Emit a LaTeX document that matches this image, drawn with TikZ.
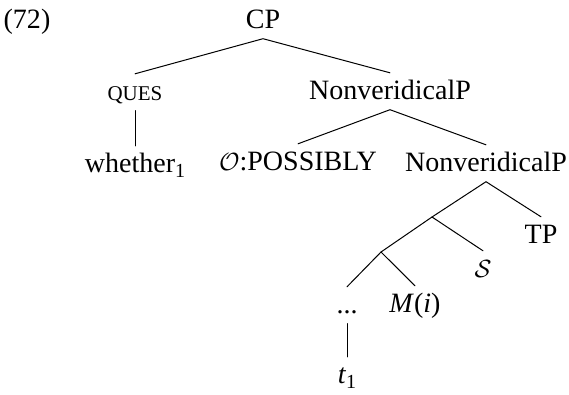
\documentclass[tikz,border=0pt]{standalone}
\usepackage{fontspec}
\setmainfont{Liberation Serif}
\newcommand{\lowsub}[1]{\raisebox{-5pt}{\fontsize{20}{24}\selectfont #1}}
\begin{document}
\begin{tikzpicture}[x=1pt,y=-1pt,
  tn/.style={anchor=base, inner sep=0pt, text height=26pt, text depth=10.5pt,
             font=\fontsize{28}{33}\selectfont},
  br/.style={line width=1pt, line cap=round}]
\useasboundingbox (0,0) rectangle (569,394);
\node[tn] (ex) at (27,28) {(72)};
\node[tn] (cp) at (263,28) {CP};
\node[tn] (ques) at (135,100) {{\fontsize{21}{24}\selectfont QUES}};
\node[tn] (nv1) at (390,99) {NonveridicalP};
\node[tn] (wh) at (135,172) {whether\lowsub{1}};
\node[tn] (op) at (298,170) {$\mathcal{O}$:POSSIBLY};
\node[tn] (nv2) at (486,171) {NonveridicalP};
\coordinate (X) at (432,217);
\node[tn] (tp) at (541,243) {TP};
\coordinate (Y) at (381,252);
\node[tn] (s) at (483,277) {$\mathcal{S}$};
\node[tn] (dots) at (347,313) {...};
\node[tn] (m) at (415,312) {\textit{M}(\textit{i})};
\node[tn] (t) at (347,383) {\textit{t}\lowsub{1}};
\draw[br] (ques.north) -- (cp.south) -- (nv1.north);
\draw[br] (ques.south) -- (wh.north);
\draw[br] (op.north) -- (nv1.south) -- (nv2.north);
\draw[br] (Y) -- (X) -- (nv2.south) -- (tp.north);
\draw[br] (X) -- (s.north);
\draw[br] (dots.north) -- (Y) -- (m.north);
\draw[br] (dots.south) -- (t.north);
\end{tikzpicture}
\end{document}
